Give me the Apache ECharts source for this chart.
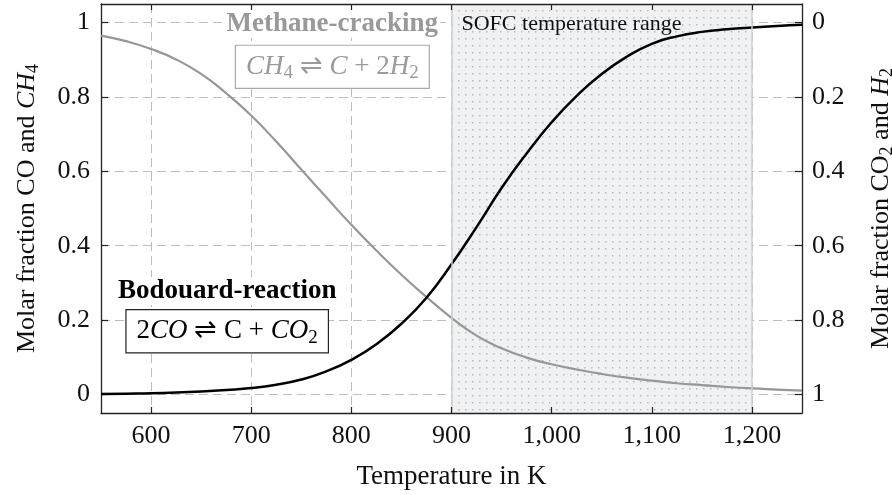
<!DOCTYPE html>
<html>
<head>
<meta charset="utf-8">
<script src="https://cdn.jsdelivr.net/npm/echarts@6/dist/echarts.min.js"></script>
<style>
  html, body { margin: 0; padding: 0; background: #fff; }
  #chart { width: 892px; height: 495px; }
</style>
</head>
<body>
<div id="chart"></div>
<script>
// Equilibrium molar fractions versus temperature (K)
const temperatureK = [550, 575, 600, 625, 650, 675, 700, 725, 750, 775, 800, 825, 850, 875, 900,
  925, 950, 975, 1000, 1025, 1050, 1075, 1100, 1125, 1150, 1175, 1200, 1225, 1250];
// Boudouard reaction: CO fraction (left axis)
const coFraction = [0.001, 0.002, 0.003, 0.005, 0.008, 0.012, 0.017, 0.026, 0.040, 0.062, 0.093,
  0.135, 0.190, 0.260, 0.350, 0.450, 0.555, 0.648, 0.732, 0.803, 0.862, 0.908, 0.943, 0.963,
  0.975, 0.982, 0.987, 0.991, 0.994];
// Methane cracking: CH4 fraction (left axis)
const ch4Fraction = [0.965, 0.950, 0.929, 0.901, 0.862, 0.810, 0.750, 0.680, 0.605, 0.530, 0.456,
  0.387, 0.322, 0.262, 0.206, 0.158, 0.124, 0.099, 0.081, 0.067, 0.055, 0.045, 0.037, 0.030,
  0.025, 0.020, 0.016, 0.013, 0.010];
const xTickValues = [600, 700, 800, 900, 1000, 1100, 1200];
const yTickValues = [0, 0.2, 0.4, 0.6, 0.8, 1];
const sofcRange = [900, 1200];

const FONT = 'Liberation Serif';
const AXIS_COLOR = '#222';

function dotPattern() {
  const c = document.createElement('canvas');
  c.width = 7; c.height = 7;
  const g = c.getContext('2d');
  g.fillStyle = '#f0f1f3';
  g.fillRect(0, 0, 7, 7);
  g.fillStyle = '#b9babd';
  g.fillRect(3, 3, 1.5, 1.5);
  return c;
}

const subRich = (color) => ({
  r: { fontFamily: FONT, fontSize: 27, color, lineHeight: 32 },
  i: { fontFamily: FONT, fontSize: 27, fontStyle: 'italic', color, lineHeight: 32 },
  s: { fontFamily: FONT, fontSize: 19, color, lineHeight: 20, verticalAlign: 'bottom' }
});

const nameRich = {
  i: { fontFamily: FONT, fontSize: 26, fontStyle: 'italic', color: '#111', lineHeight: 30 },
  s: { fontFamily: FONT, fontSize: 18, color: '#111', lineHeight: 18, verticalAlign: 'bottom' }
};

const chart = echarts.init(document.getElementById('chart'), null, { renderer: 'canvas' });

const tickLabel = { fontFamily: FONT, fontSize: 26, color: '#111' };
const frameAxis = (position) => ({
  type: 'value', position, min: 550, max: 1250, z: 10,
  axisLine: { show: true, onZero: false, lineStyle: { color: AXIS_COLOR, width: 1.3 } },
  axisTick: { show: true, inside: true, length: 6, customValues: xTickValues,
    lineStyle: { color: AXIS_COLOR, width: 1.2 } },
  axisLabel: { show: false },
  splitLine: { show: false }
});

chart.setOption({
  animation: false,
  backgroundColor: '#fff',
  grid: { left: 101, right: 90, top: 4, bottom: 82, containLabel: false, outerBoundsMode: 'none' },
  xAxis: [
    {
      type: 'value', position: 'bottom', min: 550, max: 1250, z: 0,
      name: 'Temperature in K', nameLocation: 'middle', nameGap: 50,
      nameTextStyle: { fontFamily: FONT, fontSize: 27, color: '#111' },
      axisLine: { show: false, onZero: false },
      axisTick: { show: false, customValues: xTickValues },
      axisLabel: Object.assign({ customValues: xTickValues, margin: 10,
        formatter: v => Number(v).toLocaleString('en-US') }, tickLabel),
      splitLine: { show: true, lineStyle: { color: '#bdbdbd', type: [9, 5], width: 1 } }
    },
    frameAxis('bottom'),
    frameAxis('top')
  ],
  yAxis: [
    {
      type: 'value', position: 'left', min: -0.05, max: 1.05,
      name: 'Molar fraction CO and {i|CH}{s|4}', nameLocation: 'middle', nameRotate: 90, nameGap: 59,
      nameTextStyle: { fontFamily: FONT, fontSize: 26, color: '#111', rich: nameRich },
      axisLine: { show: true, onZero: false, lineStyle: { color: AXIS_COLOR, width: 1.3 } },
      axisTick: { show: true, inside: true, length: 7, customValues: yTickValues,
        lineStyle: { color: AXIS_COLOR, width: 1.2 } },
      axisLabel: Object.assign({ customValues: yTickValues, margin: 11, formatter: v => String(v) }, tickLabel),
      splitLine: { show: true, lineStyle: { color: '#bdbdbd', type: [9, 5], width: 1 } }
    },
    {
      type: 'value', position: 'right', min: -0.05, max: 1.05, inverse: true,
      name: 'Molar fraction CO{s|2} and {i|H}{s|2}', nameLocation: 'middle', nameRotate: 90, nameGap: 64,
      nameTextStyle: { fontFamily: FONT, fontSize: 26, color: '#111', rich: nameRich },
      axisLine: { show: true, onZero: false, lineStyle: { color: AXIS_COLOR, width: 1.3 } },
      axisTick: { show: true, inside: true, length: 7, customValues: yTickValues,
        lineStyle: { color: AXIS_COLOR, width: 1.2 } },
      axisLabel: Object.assign({ customValues: yTickValues, margin: 10, formatter: v => String(v) }, tickLabel),
      splitLine: { show: false }
    }
  ],
  series: [
    {
      name: 'CH4', type: 'line', xAxisIndex: 0, yAxisIndex: 0,
      data: temperatureK.map((t, k) => [t, ch4Fraction[k]]),
      showSymbol: false, smooth: 0.5,
      lineStyle: { color: '#979797', width: 2.2 }, itemStyle: { color: '#979797' },
      z: 3,
      markArea: {
        silent: true,
        itemStyle: { color: { image: dotPattern(), repeat: 'repeat' } },
        label: {
          show: true, position: 'insideTopLeft', distance: 0, offset: [10, 9],
          formatter: 'SOFC temperature range',
          fontFamily: FONT, fontSize: 22, color: '#111'
        },
        data: [[{ xAxis: sofcRange[0] }, { xAxis: sofcRange[1] }]]
      },
      markLine: {
        silent: true, symbol: 'none', animation: false,
        label: { show: false },
        lineStyle: { color: '#cfcfcf', type: 'solid', width: 1.5 },
        data: sofcRange.map(v => ({ xAxis: v }))
      },
      markPoint: {
        silent: true, symbol: 'rect', symbolSize: 0, animation: false,
        label: { show: true, position: 'inside', fontFamily: FONT },
        data: [
          { coord: [781, 0.997], label: { formatter: 'Methane-cracking', fontWeight: 'bold',
            fontSize: 27, color: '#999', backgroundColor: '#fff', padding: [0, 2], lineHeight: 28 } },
          { coord: [781, 0.881], label: { formatter: '{i|CH}{s|4}{r| ⇌ }{i|C}{r| + 2}{i|H}{s|2}',
            rich: subRich('#9a9a9a'), borderColor: '#aaa', borderWidth: 1.2,
            backgroundColor: '#fff', padding: [5, 10] } },
          { coord: [676, 0.278], label: { formatter: 'Bodouard-reaction', fontWeight: 'bold',
            fontSize: 27, color: '#000', backgroundColor: '#fff', padding: [0, 2], lineHeight: 28 } },
          { coord: [676, 0.170], label: { formatter: '{r|2}{i|CO}{r| ⇌ C + }{i|CO}{s|2}',
            rich: subRich('#000'), borderColor: '#222', borderWidth: 1.2,
            backgroundColor: '#fff', padding: [5, 10] } }
        ]
      }
    },
    {
      name: 'CO', type: 'line', xAxisIndex: 0, yAxisIndex: 0,
      data: temperatureK.map((t, k) => [t, coFraction[k]]),
      showSymbol: false, smooth: 0.5,
      lineStyle: { color: '#000', width: 2.5 }, itemStyle: { color: '#000' },
      z: 4
    }
  ]
});
</script>
</body>
</html>
